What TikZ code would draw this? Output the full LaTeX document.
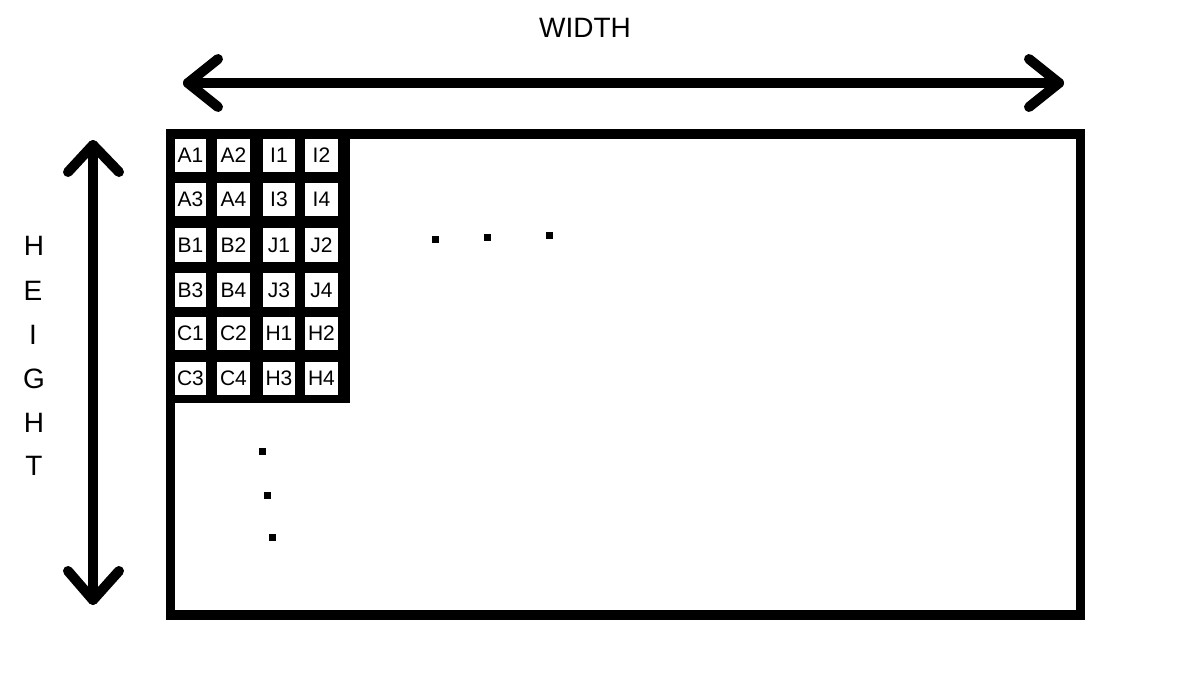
\documentclass[tikz,border=0pt]{standalone}
\usepackage{fontspec}
\setmainfont{Liberation Sans}
\begin{document}
\begin{tikzpicture}[x=1pt,y=-1pt,
  thickline/.style={line width=10pt,line cap=round,line join=round},
  cellbox/.style={fill=white,inner sep=0pt,font=\fontsize{21}{23}\selectfont},
  biglabel/.style={inner sep=0pt,font=\fontsize{28}{30}\selectfont},
  dotmark/.style={fill=black,minimum size=7pt,inner sep=0pt}]
\useasboundingbox (0,0) rectangle (1201,675);
% width arrow
\coordinate (wl) at (188,83);
\coordinate (wr) at (1059,83);
\coordinate (wl1) at (218,59);
\coordinate (wl2) at (218,107);
\coordinate (wr1) at (1029,59);
\coordinate (wr2) at (1029,107);
\draw[thickline] (wl) -- (wr);
\draw[thickline] (wl1) -- (wl) -- (wl2);
\draw[thickline] (wr1) -- (wr) -- (wr2);
\node[biglabel] (wlabel) at (585,28) {WIDTH};
% height arrow
\coordinate (ht) at (93,145);
\coordinate (hb) at (93,600);
\coordinate (ht1) at (68,172);
\coordinate (ht2) at (119,172);
\coordinate (hb1) at (68,571);
\coordinate (hb2) at (119,571);
\draw[thickline] (ht) -- (hb);
\draw[thickline] (ht1) -- (ht) -- (ht2);
\draw[thickline] (hb1) -- (hb) -- (hb2);
\node[biglabel] (h1) at (34,246) {H};
\node[biglabel] (h2) at (33,291) {E};
\node[biglabel] (h3) at (33,335) {I};
\node[biglabel] (h4) at (34,379) {G};
\node[biglabel] (h5) at (34,423) {H};
\node[biglabel] (h6) at (34,466) {T};
% main frame
\draw[line width=9.5pt] (170.5,134) rectangle (1080.5,615);
\fill[black] (166,129) rectangle (350,403);
% cells
\foreach \r/\ya/\yb/\la/\lb/\lc/\ld in {
  1/139/172/A1/A2/I1/I2,
  2/183/216/A3/A4/I3/I4,
  3/228/262/B1/B2/J1/J2,
  4/273/307/B3/B4/J3/J4,
  5/317/350/C1/C2/H1/H2,
  6/362/395/C3/C4/H3/H4}{
  \node[cellbox,minimum width=31pt,minimum height={\yb-\ya}] (c\r a) at (190.5,{(\ya+\yb)/2}) {\la};
  \node[cellbox,minimum width=33pt,minimum height={\yb-\ya}] (c\r b) at (233.5,{(\ya+\yb)/2}) {\lb};
  \node[cellbox,minimum width=32pt,minimum height={\yb-\ya}] (c\r c) at (279,{(\ya+\yb)/2}) {\lc};
  \node[cellbox,minimum width=33pt,minimum height={\yb-\ya}] (c\r d) at (321.5,{(\ya+\yb)/2}) {\ld};
}
% dots
\node[dotmark] (d1) at (435,239) {};
\node[dotmark] (d2) at (487,237) {};
\node[dotmark] (d3) at (549,235) {};
\node[dotmark] (d4) at (262,451) {};
\node[dotmark] (d5) at (267,495) {};
\node[dotmark] (d6) at (272,537) {};
\end{tikzpicture}
\end{document}
